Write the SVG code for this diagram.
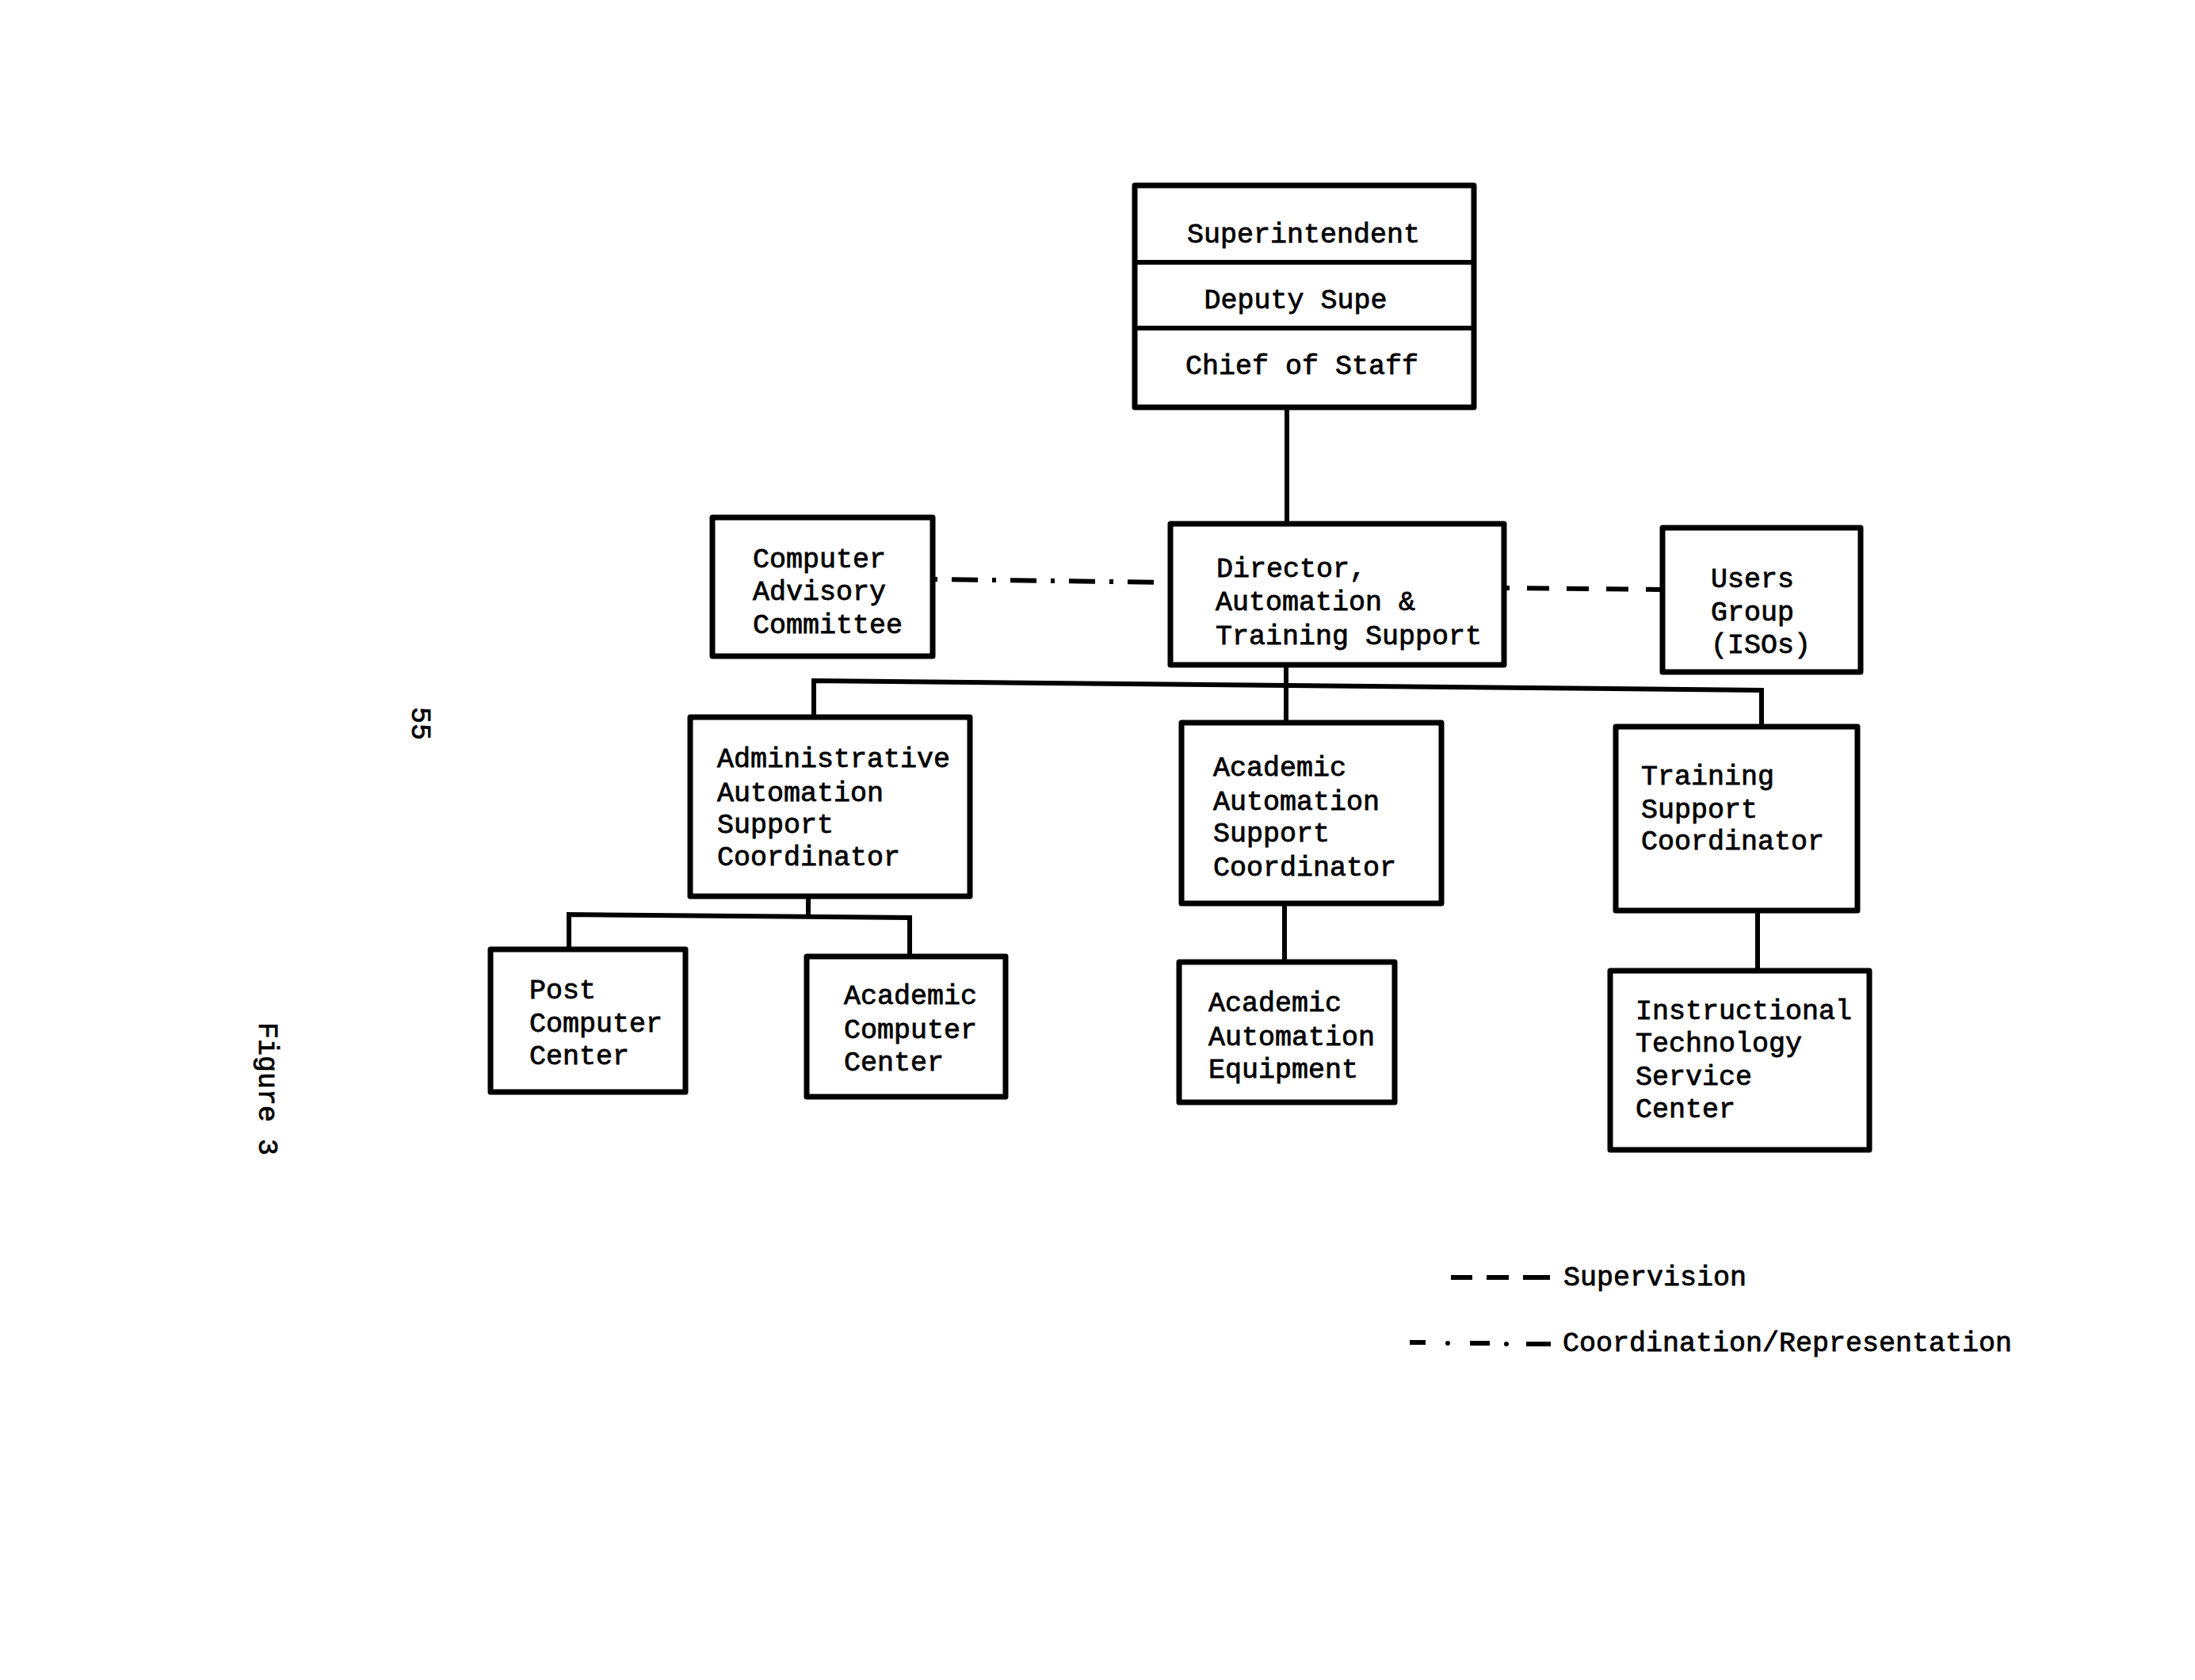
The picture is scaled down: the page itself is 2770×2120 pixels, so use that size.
<svg xmlns="http://www.w3.org/2000/svg" width="2770" height="2120" viewBox="0 0 2770 2120">
<style>
.box{fill:#fff;stroke:#000;stroke-width:7;stroke-linejoin:round}
.ln{fill:none;stroke:#000;stroke-width:6;stroke-linecap:square}
.sup{fill:none;stroke:#000;stroke-width:6;stroke-dasharray:28 22;stroke-dashoffset:24}
.crd{fill:none;stroke:#000;stroke-width:6;stroke-dasharray:5 18 33 18}
.lg{fill:none;stroke:#000;stroke-width:6}
text{font-family:"Liberation Mono","Courier New",monospace;font-size:35px;fill:#000;stroke:#000;stroke-width:0.8}
.c{text-anchor:middle}
</style>
<rect x="0" y="0" width="2770" height="2120" fill="#fff"/>

<g id="connectors">
  <line class="ln" x1="1624" y1="514" x2="1624" y2="661"/>
  <line class="crd" x1="1178" y1="731" x2="1477" y2="735"/>
  <line class="sup" x1="1901" y1="742" x2="2098" y2="744"/>
  <line class="ln" x1="1623" y1="839" x2="1623" y2="912"/>
  <polyline class="ln" points="1027,905 1027,859 2223,871 2223,917"/>
  <line class="ln" x1="1020" y1="1131" x2="1020" y2="1156"/>
  <polyline class="ln" points="718,1198 718,1154 1148,1158 1148,1207"/>
  <line class="ln" x1="1621" y1="1140" x2="1621" y2="1214"/>
  <line class="ln" x1="2218" y1="1149" x2="2218" y2="1225"/>
</g>

<g id="top-office">
  <rect class="box" x="1432" y="234" width="428" height="280"/>
  <line class="ln" x1="1432" y1="331" x2="1860" y2="331"/>
  <line class="ln" x1="1432" y1="414" x2="1860" y2="414"/>
  <text class="c" x="1645" y="306">Superintendent</text>
  <text class="c" x="1635" y="389">Deputy Supe</text>
  <text class="c" x="1643" y="472">Chief of Staff</text>
</g>

<g id="director">
  <rect class="box" x="1477" y="661" width="421" height="178"/>
  <text x="1535" y="728">Director,</text>
  <text x="1534" y="770">Automation &amp;</text>
  <text x="1534" y="813">Training Support</text>
</g>

<g id="advisory">
  <rect class="box" x="899" y="653" width="278" height="175"/>
  <text x="950" y="716">Computer</text>
  <text x="950" y="757">Advisory</text>
  <text x="950" y="799">Committee</text>
</g>

<g id="users">
  <rect class="box" x="2098" y="666" width="250" height="182"/>
  <text x="2159" y="741">Users</text>
  <text x="2159" y="783">Group</text>
  <text x="2159" y="824">(ISOs)</text>
</g>

<g id="admin">
  <rect class="box" x="871" y="905" width="353" height="226"/>
  <text x="905" y="968">Administrative</text>
  <text x="905" y="1011">Automation</text>
  <text x="905" y="1051">Support</text>
  <text x="905" y="1092">Coordinator</text>
</g>

<g id="academic-coord">
  <rect class="box" x="1491" y="912" width="328" height="228"/>
  <text x="1531" y="979">Academic</text>
  <text x="1531" y="1022">Automation</text>
  <text x="1531" y="1062">Support</text>
  <text x="1531" y="1105">Coordinator</text>
</g>

<g id="training-coord">
  <rect class="box" x="2039" y="917" width="305" height="232"/>
  <text x="2071" y="990">Training</text>
  <text x="2071" y="1032">Support</text>
  <text x="2071" y="1072">Coordinator</text>
</g>

<g id="post-cc">
  <rect class="box" x="619" y="1198" width="246" height="180"/>
  <text x="668" y="1260">Post</text>
  <text x="668" y="1302">Computer</text>
  <text x="668" y="1343">Center</text>
</g>

<g id="academic-cc">
  <rect class="box" x="1018" y="1207" width="251" height="177"/>
  <text x="1065" y="1267">Academic</text>
  <text x="1065" y="1310">Computer</text>
  <text x="1065" y="1351">Center</text>
</g>

<g id="academic-equip">
  <rect class="box" x="1488" y="1214" width="272" height="177"/>
  <text x="1525" y="1276">Academic</text>
  <text x="1525" y="1319">Automation</text>
  <text x="1525" y="1360">Equipment</text>
</g>

<g id="itsc">
  <rect class="box" x="2032" y="1225" width="327" height="226"/>
  <text x="2064" y="1286">Instructional</text>
  <text x="2064" y="1327">Technology</text>
  <text x="2064" y="1369">Service</text>
  <text x="2064" y="1410">Center</text>
</g>

<g id="legend">
  <line class="lg" x1="1831" y1="1612" x2="1858" y2="1612"/>
  <line class="lg" x1="1876" y1="1612" x2="1904" y2="1612"/>
  <line class="lg" x1="1922" y1="1612" x2="1956" y2="1612"/>
  <text x="1973" y="1622">Supervision</text>
  <line class="lg" x1="1779" y1="1694" x2="1799" y2="1694"/>
  <circle cx="1827" cy="1695" r="3"/>
  <line class="lg" x1="1855" y1="1695" x2="1880" y2="1695"/>
  <circle cx="1901" cy="1696" r="3"/>
  <line class="lg" x1="1926" y1="1696" x2="1957" y2="1696"/>
  <text x="1972" y="1705">Coordination/Representation</text>
</g>

<g id="page-marks">
  <text transform="translate(520,892) rotate(90)">55</text>
  <text transform="translate(327,1290) rotate(90)">Figure 3</text>
</g>
</svg>
